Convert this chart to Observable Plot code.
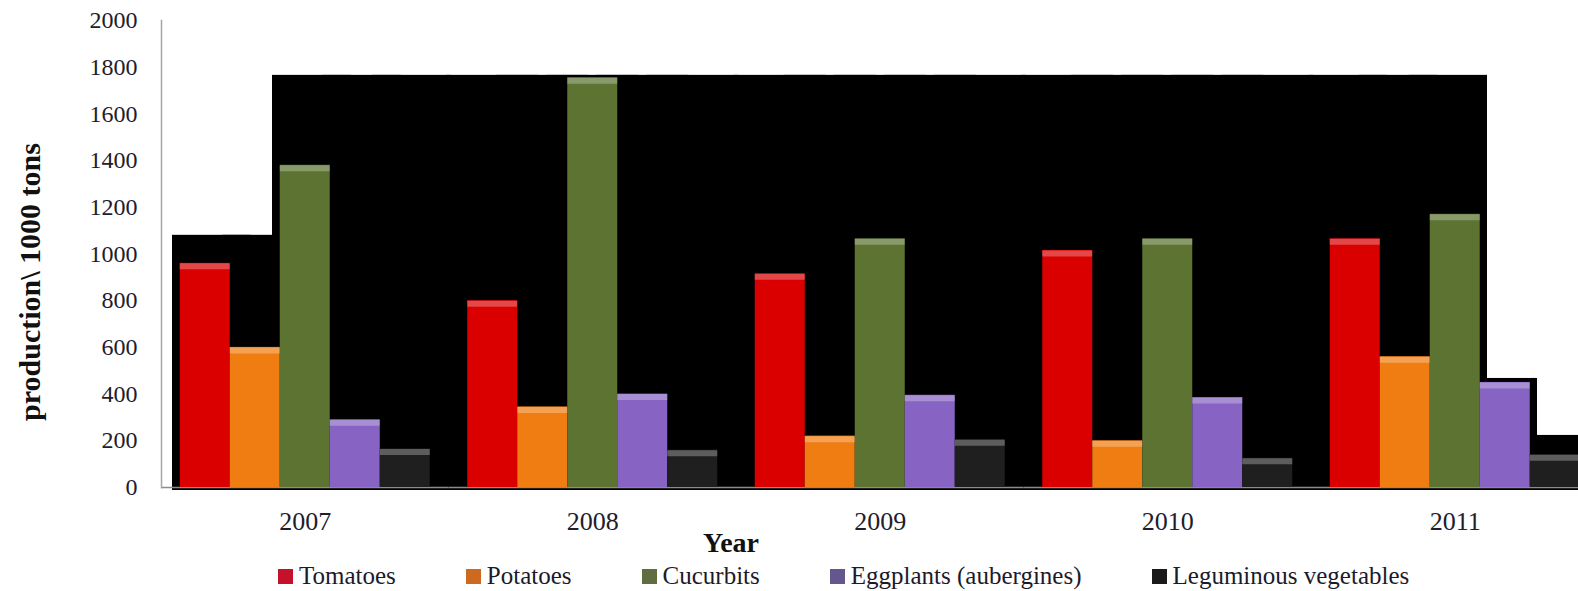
<!DOCTYPE html>
<html>
<head>
<meta charset="utf-8">
<script src="https://cdn.jsdelivr.net/npm/d3@7"></script>
<script src="https://cdn.jsdelivr.net/npm/@observablehq/plot@0.6"></script>
<style>
  html, body { margin: 0; padding: 0; background: #fff; overflow: hidden; }
  #wrap { position: relative; width: 1578px; height: 591px; font-family: "Liberation Serif", "Times New Roman", serif; color: #1c1a2a; }
  #xtitle { position: absolute; top: 531px; left: 731px; transform: translateX(-50%); font-size: 28px; font-weight: bold; line-height: 24px; white-space: nowrap; color: #111; }
  #legend { position: absolute; top: 565px; left: 278px; display: flex; gap: 70px; font-size: 25px; line-height: 22px; white-space: nowrap; }
  .item { display: flex; align-items: center; gap: 6px; }
  .sw { width: 15px; height: 15px; display: inline-block; }
</style>
</head>
<body>
<div id="wrap">
  <div id="chart"></div>
  <div id="xtitle"></div>
  <div id="legend"></div>
</div>
<script>
// ---- data ----
const years = [2007, 2008, 2009, 2010, 2011];
const crops = ["Tomatoes", "Potatoes", "Cucurbits", "Eggplants (aubergines)", "Leguminous vegetables"];
const tomatoes   = [960, 800, 915, 1015, 1065];
const potatoes   = [600, 345, 220, 200, 560];
const cucurbits  = [1380, 1755, 1065, 1065, 1170];
const eggplants  = [290, 400, 395, 385, 450];
const leguminous = [165, 160, 205, 125, 140];
const barColors    = ["#da0000", "#f07d12", "#5c7331", "#8764c3", "#1f1f1f"];
const legendColors = ["#c4122c", "#cc6a20", "#5f6d40", "#65578d", "#1a1a1a"];
const yTicks = [0, 200, 400, 600, 800, 1000, 1200, 1400, 1600, 1800, 2000];
const yLabel = "production\\ 1000 tons";
const xLabel = "Year";
// black backdrop behind the bars, level per year and crop slot
const backdrop2007 = [1080, 1080, 1765, 1765, 1765];
const backdrop2008 = [1765, 1765, 1765, 1765, 1765];
const backdrop2009 = [1765, 1765, 1765, 1765, 1765];
const backdrop2010 = [1765, 1765, 1765, 1765, 1765];
const backdrop2011 = [1765, 1765, 1765, 467, 223];

// ---- tables ----
const series = [tomatoes, potatoes, cucurbits, eggplants, leguminous];
const rows = years.flatMap((year, i) => crops.map((crop, j) => ({year, crop, value: series[j][i]})));
const backdrops = [backdrop2007, backdrop2008, backdrop2009, backdrop2010, backdrop2011];
const bdRows = years.flatMap((year, i) => crops.map((crop, j) => ({year, crop, top: backdrops[i][j]})));
const first = years[0], last = years[years.length - 1];

const chart = Plot.plot({
  width: 1578,
  height: 540,
  marginTop: 20,
  marginBottom: 53,
  marginLeft: 161,
  marginRight: 0,
  style: {fontFamily: '"Liberation Serif", "Times New Roman", serif', color: "#221c2c", background: "white", overflow: "hidden"},
  fx: {domain: years, range: [161, 1598.5], padding: 0, round: false, label: null, tickFormat: d => String(d)},
  x: {domain: crops, paddingInner: 0, paddingOuter: 0.375, round: false, axis: null},
  y: {domain: [0, 2000], label: null, tickFormat: d => String(d)},
  color: {domain: crops, range: barColors},
  marks: [
    Plot.barY(bdRows.filter(d => d.year === first), {fx: "year", x: "crop", y1: 0, y2: "top", fill: "black", insetLeft: -7.75, insetRight: -21, insetBottom: -3}),
    Plot.barY(bdRows.filter(d => d.year !== first && d.year !== last), {fx: "year", x: "crop", y1: 0, y2: "top", fill: "black", insetLeft: -21, insetRight: -21, insetBottom: -3}),
    Plot.barY(bdRows.filter(d => d.year === last), {fx: "year", x: "crop", y1: 0, y2: "top", fill: "black", insetLeft: -21, insetRight: -7.25, insetBottom: -3}),
    Plot.ruleY([0], {stroke: "#8c8c8c", strokeWidth: 1.5}),
    Plot.barY(rows, {fx: "year", x: "crop", y: "value", fill: "crop"}),
    Plot.tickY(rows, {fx: "year", x: "crop", y: "value", stroke: "white", strokeOpacity: 0.28, strokeWidth: 6, dy: 3}),
    Plot.frame({anchor: "left", facetAnchor: "left", stroke: "#a5a5a5", strokeWidth: 1.5}),
    Plot.axisY({ticks: yTicks, tickSize: 0, tickPadding: 24, fontSize: 24, label: null, tickFormat: d => String(d)}),
    Plot.text([yLabel], {text: d => d, frameAnchor: "left", textAnchor: "middle", facetAnchor: "left", rotate: -90, dx: -131, dy: 28, fontSize: 30, fontWeight: "bold", fill: "#111"}),
    Plot.axisFx({anchor: "bottom", tickSize: 0, tickPadding: 24, fontSize: 26, label: null, tickFormat: d => String(d)})
  ]
});
document.getElementById("chart").append(chart);

document.getElementById("xtitle").textContent = xLabel;
const legend = document.getElementById("legend");
crops.forEach((c, i) => {
  const item = document.createElement("div");
  item.className = "item";
  const sw = document.createElement("span");
  sw.className = "sw";
  sw.style.background = legendColors[i];
  const tx = document.createElement("span");
  tx.textContent = c;
  item.append(sw, tx);
  legend.append(item);
});
</script>
</body>
</html>
